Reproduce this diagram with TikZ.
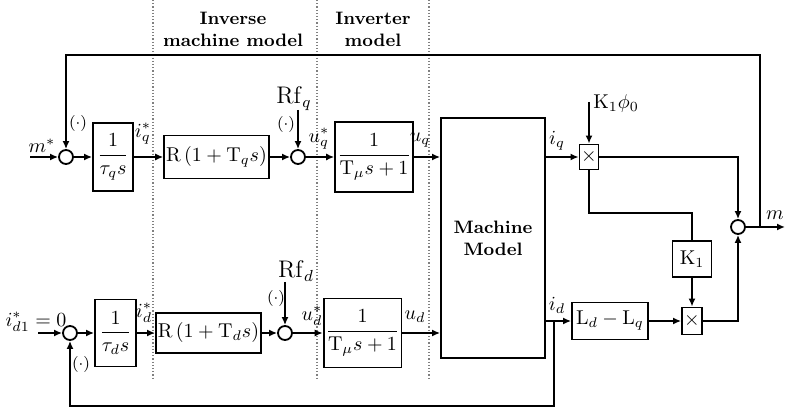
\documentclass[tikz,border=0pt]{standalone}
\usepackage{amsmath,amssymb}
\usepackage{tikz}
\usetikzlibrary{arrows.meta, positioning, calc}

\tikzset{
  blk/.style={draw, line width=0.9pt, inner sep=1pt, align=center},
  sumc/.style={draw, circle, line width=0.9pt, minimum size=7pt, inner sep=0pt},
  mult/.style={draw, line width=0.9pt, minimum width=9.5pt, minimum height=12.5pt, inner sep=0pt},
  sig/.style={line width=0.9pt, -{Latex[length=4pt,width=3.5pt]}},
  wire/.style={line width=0.9pt},
  zone/.style={gray, densely dotted, line width=0.6pt},
  lbl/.style={inner sep=1pt},
  neg/.style={inner sep=0pt, font=\footnotesize},
}

\begin{document}
\begin{tikzpicture}[x=0.5pt, y=-0.5pt]
  \useasboundingbox (0,0) rectangle (785,410);
  % zones
  \foreach \x in {153,317,429} {
    \draw[zone] (\x,0) -- (\x,380);
  }
  \node[font=\small\bfseries, align=center] (zinv) at (233,29) {Inverse\\machine model};
  \node[font=\small\bfseries, align=center] (zint) at (373,29) {Inverter\\model};

  % q axis
  \node[sumc] (sq1) at (66,157) {};
  \node[blk, minimum width=20pt, minimum height=34pt] (Iq) at (113,157) {$\dfrac{1}{\tau_q s}$};
  \node[blk, minimum width=51.5pt, minimum height=21.5pt] (Rq) at (216.5,157) {$\mathrm{R}\left(1+\mathrm{T}_q s\right)$};
  \node[sumc] (sq2) at (298,157) {};
  \node[blk, minimum width=34pt, minimum height=35pt] (Uq) at (374,157) {$\dfrac{1}{\mathrm{T}_\mu s+1}$};

  % machine
  \node[blk, minimum width=52pt, minimum height=120pt, font=\small\bfseries] (mach) at (493,238) {Machine\\Model};

  % torque part
  \node[mult] (mq) at (589,157) {$\times$};
  \node[sumc] (sm) at (738,227) {};
  \node[blk, minimum width=19.5pt, minimum height=18pt] (K) at (692,259) {$\mathrm{K}_1$};
  \node[mult, minimum width=10pt, minimum height=13.5pt] (md) at (692,321) {$\times$};
  \node[blk, minimum width=38pt, minimum height=18.5pt] (L) at (610,321) {$\mathrm{L}_d-\mathrm{L}_q$};

  % d axis
  \node[sumc] (sd1) at (70,333) {};
  \node[blk, minimum width=20.5pt, minimum height=33.5pt] (Id) at (115.5,333) {$\dfrac{1}{\tau_d s}$};
  \node[blk, minimum width=51.5pt, minimum height=20pt] (Rd) at (208.5,333) {$\mathrm{R}\left(1+\mathrm{T}_d s\right)$};
  \node[sumc] (sd2) at (285,333) {};
  \node[blk, minimum width=34.5pt, minimum height=34.5pt] (Ud) at (362.5,333) {$\dfrac{1}{\mathrm{T}_\mu s+1}$};

  % free ends
  \coordinate (mref) at (30,157);
  \coordinate (rfq) at (298,110);
  \coordinate (kphi) at (589,102);
  \coordinate (kin) at (692,213);
  \coordinate (fbq) at (760,227);
  \coordinate (fbtop) at (760,55);
  \coordinate (mout) at (785,227);
  \coordinate (idref) at (38,333);
  \coordinate (rfd) at (285,282);
  \coordinate (idbr) at (554,321);
  \coordinate (fbd) at (554,406);

  % q connectors
  \draw[sig] (mref) -- (sq1);
  \draw[sig] (sq1) -- (Iq);
  \draw[sig] (Iq) -- (Rq);
  \draw[sig] (Rq) -- (sq2);
  \draw[sig] (rfq) -- (sq2);
  \draw[sig] (sq2) -- (Uq);
  \draw[sig] (Uq) -- (Uq -| mach.west);
  \draw[sig] (mach.east |- mq) -- (mq);
  \draw[sig] (kphi) -- (mq);
  \draw[sig] (mq) -| (sm);
  \draw[wire] (mq) |- (kin) -- (K);
  \draw[sig] (K) -- (md);
  \draw[sig] (L) -- (md);
  \draw[sig] (md) -| (sm);
  \draw[sig] (sm) -- (mout);
  \draw[sig] (fbq) -- (fbtop) -| (sq1);

  % d connectors
  \draw[sig] (idref) -- (sd1);
  \draw[sig] (sd1) -- (Id);
  \draw[sig] (Id) -- (Rd);
  \draw[sig] (Rd) -- (sd2);
  \draw[sig] (rfd) -- (sd2);
  \draw[sig] (sd2) -- (Ud);
  \draw[sig] (Ud) -- (Ud -| mach.west);
  \draw[sig] (mach.east |- L) -- (L);
  \draw[sig] (idbr) -- (fbd) -| (sd1);

  % labels
  \node[lbl] (lm) at (42,146) {$m^*$};
  \node[neg] (nq1) at (78,124) {$(\cdot)$};
  \node[lbl] (liq) at (143,134) {$i_q^*$};
  \node[lbl, font=\large] (lrfq) at (294,99) {$\mathrm{Rf}_q$};
  \node[neg] (nq2) at (286,125) {$(\cdot)$};
  \node[lbl] (luqs) at (319,139) {$u_q^*$};
  \node[lbl] (luq) at (420,140) {$u_q$};
  \node[lbl] (liqo) at (557,141) {$i_q$};
  \node[lbl, anchor=west] (lkphi) at (591,104) {$\mathrm{K}_1\phi_0$};
  \node[lbl] (lmo) at (775,215) {$m$};
  \node[lbl] (lid1) at (36,322) {$i_{d1}^*=0$};
  \node[neg] (nd1) at (81,364) {$(\cdot)$};
  \node[lbl] (lid) at (144,313) {$i_d^*$};
  \node[lbl, font=\large] (lrfd) at (296,271) {$\mathrm{Rf}_d$};
  \node[neg] (nd2) at (276,299) {$(\cdot)$};
  \node[lbl] (luds) at (312,316) {$u_d^*$};
  \node[lbl] (lud) at (415,317) {$u_d$};
  \node[lbl] (lido) at (557,305) {$i_d$};
\end{tikzpicture}
\end{document}
